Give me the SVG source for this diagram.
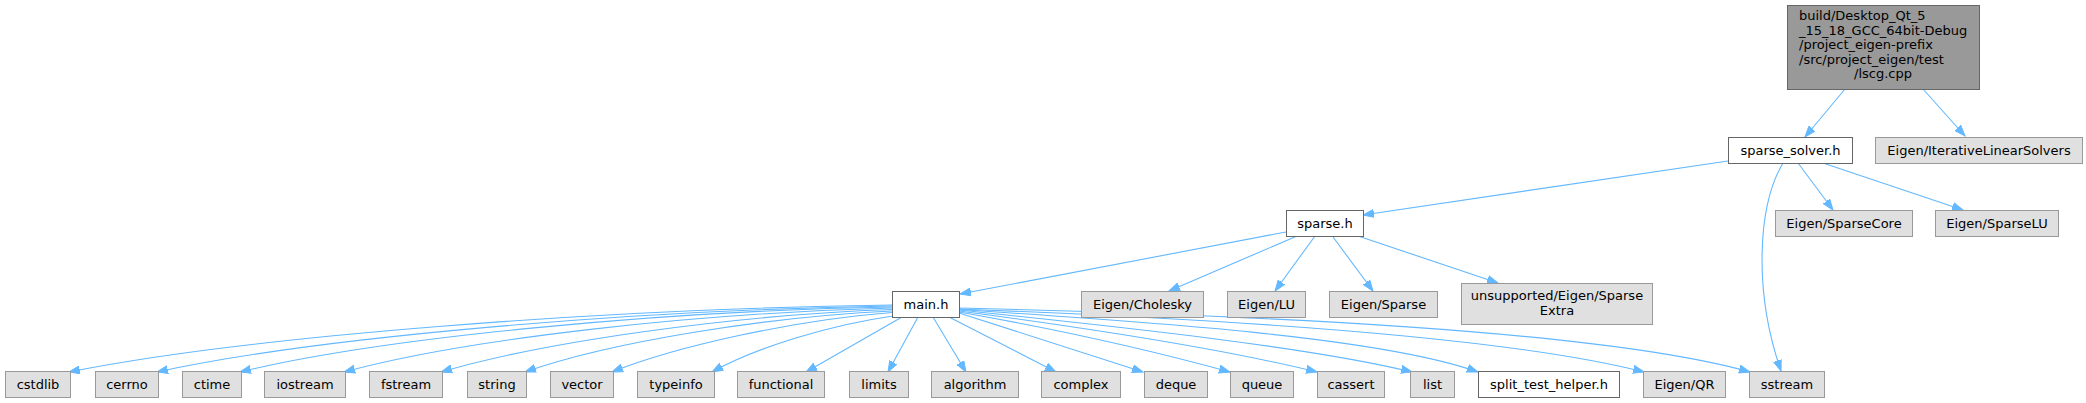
<svg xmlns="http://www.w3.org/2000/svg" width="2086" height="403" viewBox="0 0 2086 403">
<style>
text{font-family:"DejaVu Sans","Liberation Sans",sans-serif;font-size:13px;fill:#000;text-anchor:middle}
.g rect{fill:#e0e0e0;stroke:#999999;stroke-width:1}
.w rect{fill:#ffffff;stroke:#666666;stroke-width:1}
.t rect{fill:#999999;stroke:#666666;stroke-width:1}
#edges path{fill:none;stroke:#63b8ff;stroke-width:1.1;marker-end:url(#arr)}
</style>
<defs>
<marker id="arr" markerUnits="userSpaceOnUse" markerWidth="12" markerHeight="9" refX="11" refY="4" orient="auto" viewBox="0 0 12 8">
<path d="M0,0 L11,4 L0,8 z" fill="#63b8ff" stroke="#63b8ff" stroke-width="1"/>
</marker>
</defs>
<rect width="2086" height="403" fill="#ffffff"/>
<g id="edges">
<path d="M1845,89 L1805,137"/>
<path d="M1923,89 L1965,136"/>
<path d="M1728,161 L1363,215"/>
<path d="M1798,163 L1833,210"/>
<path d="M1823,163 L1963,210"/>
<path d="M1783,163 C1758,205 1753,290 1781,371"/>
<path d="M1286,232 L960,294"/>
<path d="M1297,236 L1169,291"/>
<path d="M1315,236 L1275,291"/>
<path d="M1333,237 L1373,291"/>
<path d="M1358,236 L1498,283"/>
<path d="M892,305 C600,309 249,336 69,372"/>
<path d="M892,306 C632,310 317,337 157,372"/>
<path d="M892,307 C662,311 385,337 240,372"/>
<path d="M892,308 C700,313 469,338 344,372"/>
<path d="M892,309.5 C735,315 546,341 441,372"/>
<path d="M892,311 C765,317 610,342 525,372"/>
<path d="M892,312.5 C795,320 677,346 612,372"/>
<path d="M893,316 C830,325 757,347 712,372"/>
<path d="M902,317 L806,372"/>
<path d="M918,317 L888,372"/>
<path d="M933,317 L966,372"/>
<path d="M949,317 L1056,372"/>
<path d="M959,313 L1143,372"/>
<path d="M959,312 C1050,328 1150,350 1230,372"/>
<path d="M959,311 C1080,327 1220,348 1317,372"/>
<path d="M959,310 C1100,325 1300,345 1412,372"/>
<path d="M959,309.5 C1150,322 1380,337 1478,372"/>
<path d="M959,309 C1200,318 1500,335 1644,372"/>
<path d="M959,308 C1250,315 1600,330 1750,372"/>
</g>
<g id="n_top" class="t"><rect x="1787.5" y="5.5" width="192" height="84"/>
<text x="1799" y="20" style="text-anchor:start">build/Desktop_Qt_5</text>
<text x="1799" y="34.5" style="text-anchor:start">_15_18_GCC_64bit-Debug</text>
<text x="1799" y="49" style="text-anchor:start">/project_eigen-prefix</text>
<text x="1799" y="63.5" style="text-anchor:start">/src/project_eigen/test</text>
<text x="1883" y="78">/lscg.cpp</text></g>
<g id="n_sparse_solver" class="w"><rect x="1728.5" y="137.5" width="124" height="26"/><text x="1790.5" y="155">sparse_solver.h</text></g>
<g id="n_ils" class="g"><rect x="1875.5" y="137.5" width="207" height="26"/><text x="1979" y="155">Eigen/IterativeLinearSolvers</text></g>
<g id="n_sparse" class="w"><rect x="1286.5" y="210.5" width="77" height="26"/><text x="1325" y="228">sparse.h</text></g>
<g id="n_sparsecore" class="g"><rect x="1775.5" y="210.5" width="137" height="26"/><text x="1844" y="228">Eigen/SparseCore</text></g>
<g id="n_sparselu" class="g"><rect x="1935.5" y="210.5" width="123" height="26"/><text x="1997" y="228">Eigen/SparseLU</text></g>
<g id="n_main" class="w"><rect x="892.5" y="291.5" width="67" height="26"/><text x="926" y="309">main.h</text></g>
<g id="n_cholesky" class="g"><rect x="1081.5" y="291.5" width="122" height="26"/><text x="1142.5" y="309">Eigen/Cholesky</text></g>
<g id="n_lu" class="g"><rect x="1227.5" y="291.5" width="78" height="26"/><text x="1266.5" y="309">Eigen/LU</text></g>
<g id="n_eigsparse" class="g"><rect x="1329.5" y="291.5" width="108" height="26"/><text x="1383.5" y="309">Eigen/Sparse</text></g>
<g id="n_unsupported" class="g"><rect x="1461.5" y="283.5" width="191" height="41"/><text x="1557" y="300">unsupported/Eigen/Sparse</text><text x="1557" y="315">Extra</text></g>
<g id="n_cstdlib" class="g"><rect x="5.5" y="371.5" width="65" height="26"/><text x="38" y="389">cstdlib</text></g>
<g id="n_cerrno" class="g"><rect x="95.5" y="371.5" width="63" height="26"/><text x="127" y="389">cerrno</text></g>
<g id="n_ctime" class="g"><rect x="182.5" y="371.5" width="59" height="26"/><text x="212" y="389">ctime</text></g>
<g id="n_iostream" class="g"><rect x="264.5" y="371.5" width="81" height="26"/><text x="305" y="389">iostream</text></g>
<g id="n_fstream" class="g"><rect x="369.5" y="371.5" width="73" height="26"/><text x="406" y="389">fstream</text></g>
<g id="n_string" class="g"><rect x="467.5" y="371.5" width="59" height="26"/><text x="497" y="389">string</text></g>
<g id="n_vector" class="g"><rect x="550.5" y="371.5" width="63" height="26"/><text x="582" y="389">vector</text></g>
<g id="n_typeinfo" class="g"><rect x="637.5" y="371.5" width="77" height="26"/><text x="676" y="389">typeinfo</text></g>
<g id="n_functional" class="g"><rect x="737.5" y="371.5" width="87" height="26"/><text x="781" y="389">functional</text></g>
<g id="n_limits" class="g"><rect x="849.5" y="371.5" width="59" height="26"/><text x="879" y="389">limits</text></g>
<g id="n_algorithm" class="g"><rect x="931.5" y="371.5" width="87" height="26"/><text x="975" y="389">algorithm</text></g>
<g id="n_complex" class="g"><rect x="1041.5" y="371.5" width="79" height="26"/><text x="1081" y="389">complex</text></g>
<g id="n_deque" class="g"><rect x="1144.5" y="371.5" width="63" height="26"/><text x="1176" y="389">deque</text></g>
<g id="n_queue" class="g"><rect x="1230.5" y="371.5" width="63" height="26"/><text x="1262" y="389">queue</text></g>
<g id="n_cassert" class="g"><rect x="1317.5" y="371.5" width="67" height="26"/><text x="1351" y="389">cassert</text></g>
<g id="n_list" class="g"><rect x="1410.5" y="371.5" width="44" height="26"/><text x="1432.5" y="389">list</text></g>
<g id="n_split" class="w"><rect x="1478.5" y="371.5" width="141" height="26"/><text x="1549" y="389">split_test_helper.h</text></g>
<g id="n_qr" class="g"><rect x="1643.5" y="371.5" width="82" height="26"/><text x="1684.5" y="389">Eigen/QR</text></g>
<g id="n_sstream" class="g"><rect x="1749.5" y="371.5" width="75" height="26"/><text x="1787" y="389">sstream</text></g>
</svg>
